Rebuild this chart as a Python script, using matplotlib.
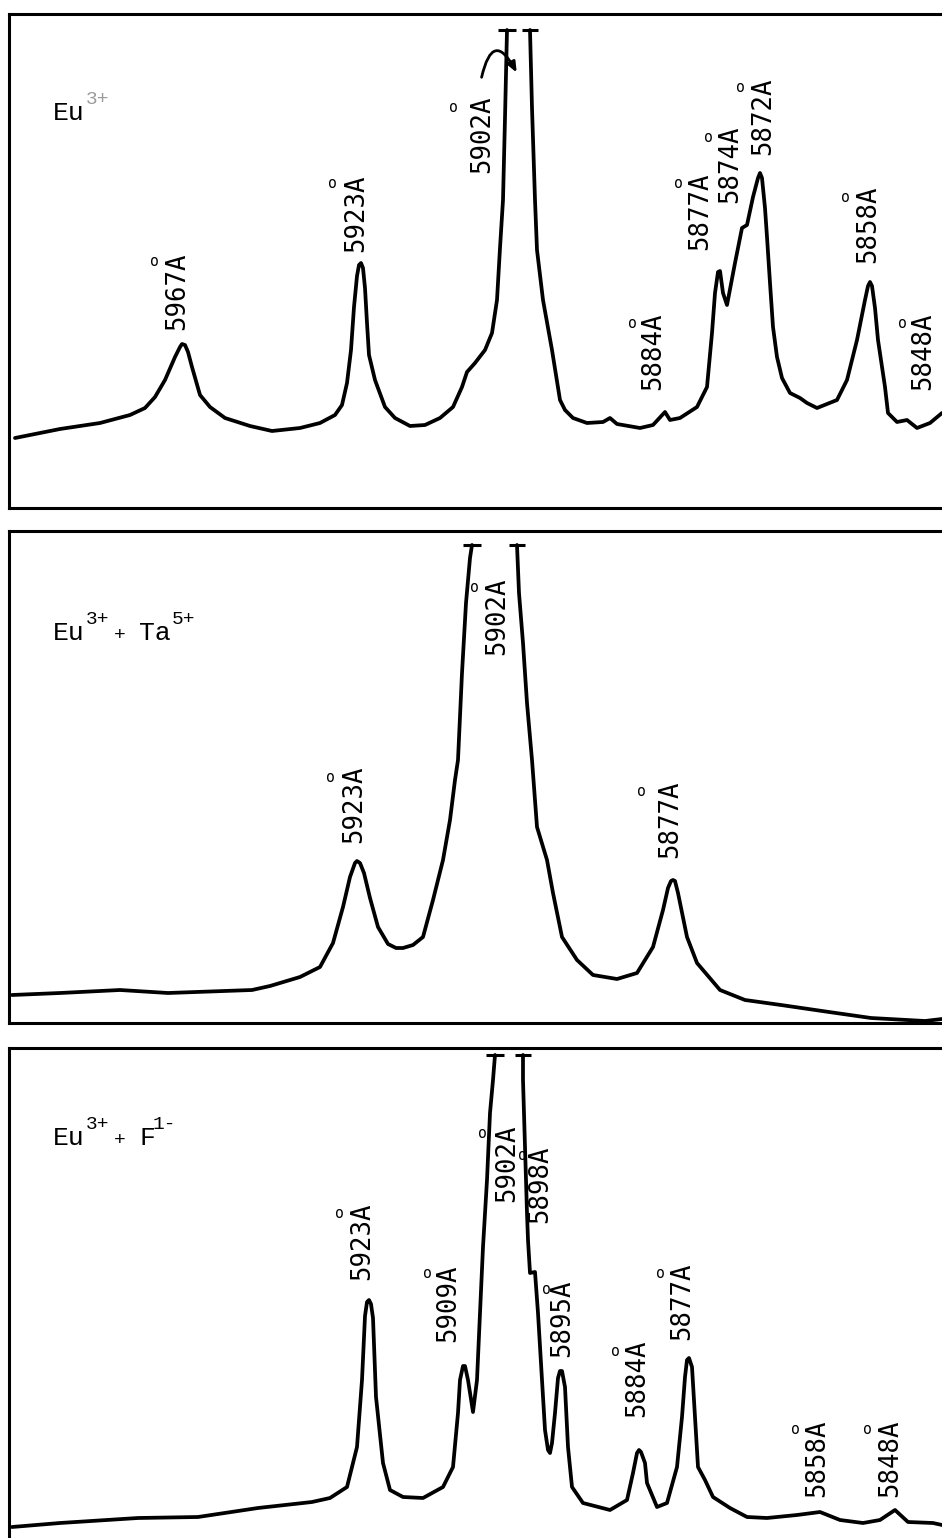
import matplotlib
matplotlib.use("Agg")
import matplotlib.pyplot as plt

# ---------------- data (chart position, pen deflection) ----------------
# Panel 1: Eu3+
eu_x_left = [15, 60, 100, 130, 145, 155, 165, 175, 180, 182, 185, 188, 192, 200, 210, 225, 250, 272, 300,
             320, 335, 342, 347, 351, 354, 357, 359, 361, 363, 365, 367, 369, 375, 385, 395, 410, 425, 440,
             453, 462, 467, 475, 485, 492, 497, 500, 503, 505, 507]
eu_y_left = [70, 79, 85, 93, 100, 111, 128, 151, 161, 164, 163, 156, 141, 113, 101, 90, 82, 77, 80,
             85, 93, 103, 125, 158, 201, 232, 243, 245, 240, 220, 185, 153, 128, 101, 90, 82, 83, 90,
             101, 121, 136, 145, 158, 175, 208, 260, 308, 390, 478]
eu_x_right = [530, 532, 535, 537, 543, 552, 560, 565, 573, 587, 603, 610, 617, 640, 653, 665, 670,
              680, 697, 707, 712, 715, 718, 720, 723, 727, 735, 742, 747, 753, 758, 760, 762, 765, 767,
              770, 773, 777, 782, 790, 800, 807, 817, 837, 847, 857, 865, 868, 870, 872, 875, 878, 885,
              888, 897, 907, 917, 930, 942]
eu_y_right = [478, 400, 308, 258, 208, 158, 108, 98, 90, 85, 86, 90, 84, 80, 83, 96, 88,
              90, 101, 121, 175, 215, 236, 237, 215, 203, 245, 280, 283, 311, 330, 335, 330, 300, 271,
              225, 181, 151, 130, 115, 110, 105, 100, 108, 128, 168, 208, 222, 226, 222, 200, 168, 121,
              95, 86, 88, 80, 85, 95]
eu_lines = ["5967", "5923", "5902", "5884", "5877", "5874", "5872", "5858", "5848"]

# Panel 2: Eu3+ + Ta5+
ta_x_left = [12, 60, 120, 168, 252, 270, 300, 320, 333, 343, 350, 355, 357, 360, 364, 370, 378, 388,
             396, 403, 413, 423, 433, 443, 450, 455, 458, 462, 466, 470, 472]
ta_y_left = [28, 30, 33, 30, 33, 37, 46, 56, 80, 116, 146, 160, 162, 160, 150, 125, 96, 79,
             75, 75, 78, 86, 123, 163, 203, 243, 263, 350, 420, 465, 478]
ta_x_right = [517, 519, 523, 527, 532, 537, 547, 553, 562, 577, 593, 617, 637, 653, 663, 668, 671,
              673, 675, 678, 687, 697, 720, 745, 781, 829, 871, 925, 942]
ta_y_right = [478, 430, 380, 320, 263, 196, 163, 130, 86, 63, 48, 44, 50, 76, 113, 135, 142,
              143, 142, 130, 86, 60, 33, 23, 18, 11, 5, 2, 4]
ta_lines = ["5923", "5902", "5877"]

# Panel 3: Eu3+ + F1-
f_x_left = [12, 60, 138, 198, 258, 312, 330, 347, 357, 362, 365, 367, 369, 371, 373, 376, 383, 390, 403,
            423, 443, 453, 458, 460, 463, 465, 468, 473, 477, 480, 483, 487, 490, 493, 495]
f_y_left = [11, 15, 20, 21, 30, 36, 40, 51, 91, 158, 222, 236, 238, 234, 220, 141, 75, 48, 41,
            40, 51, 71, 125, 158, 172, 172, 158, 126, 158, 225, 291, 358, 425, 458, 483]
f_x_right = [523, 523, 525, 527, 528, 530, 535, 538, 542, 545, 548, 550, 552, 555, 558, 560, 562, 565, 568, 572,
             583, 610, 627, 633, 637, 639, 641, 645, 647, 657, 667, 677, 682, 685, 687, 689, 692, 695, 698, 705,
             713, 730, 747, 767, 797, 820, 840, 863, 880, 895, 908, 933, 942]
f_y_right = [483, 458, 391, 325, 298, 265, 266, 225, 158, 108, 88, 85, 95, 125, 160, 167, 167, 151, 91, 51,
             35, 28, 38, 65, 85, 88, 86, 75, 55, 31, 35, 71, 121, 161, 178, 180, 171, 121, 71, 58,
             41, 30, 21, 20, 23, 26, 18, 15, 18, 28, 16, 15, 13]
f_lines = ["5923", "5909", "5902", "5898", "5895", "5884", "5877", "5858", "5848"]

# ---------------- layout helpers ----------------
W, H = 942, 1538
fig = plt.figure(figsize=(W / 100, H / 100), dpi=100)
fig.patch.set_facecolor("white")

LW = 2.2
CLW = 2.7
MONO = "DejaVu Sans Mono"
TYPE = "Liberation Mono"


def make_ax(top_px, bottom_px, show_bottom=True):
    ax = fig.add_axes([9 / W, (H - bottom_px) / H, (W - 9) / W, (bottom_px - top_px) / H])
    ax.set_xlim(9, W)
    ax.set_ylim(0, bottom_px - top_px)
    ax.set_xticks([])
    ax.set_yticks([])
    for s in ("top", "left", "bottom"):
        ax.spines[s].set_linewidth(LW)
        ax.spines[s].set_color("black")
    ax.spines["right"].set_visible(False)
    ax.spines["bottom"].set_visible(show_bottom)
    ax.patch.set_alpha(0)
    return ax


def trace(ax, xl, yl, xr, yr):
    ax.plot(xl, yl, color="black", lw=CLW, solid_joinstyle="round", solid_capstyle="round")
    ax.plot(xr, yr, color="black", lw=CLW, solid_joinstyle="round", solid_capstyle="round")
    # off-scale caps at the clipped ends
    ax.plot([xl[-1]], [yl[-1]], marker="_", ms=13, mew=LW, color="black")
    ax.plot([xr[0]], [yr[0]], marker="_", ms=11, mew=LW, color="black")


def labels(ax, names, pos, rings):
    for name, (x, y), (rx, ry) in zip(names, pos, rings):
        ax.text(x, y, name + "A", rotation=90, ha="center", va="bottom",
                fontsize=18.5, family=MONO, color="black")
        ax.text(rx, ry, "o", ha="center", va="center", fontsize=10.5, family=MONO, color="black")


# ---------------- panel 1 ----------------
ax1 = make_ax(14, 508)
trace(ax1, eu_x_left, eu_y_left, eu_x_right, eu_y_right)
labels(ax1, eu_lines,
       [(177, 178), (356, 256), (482, 335), (653, 118), (700, 258), (730, 305), (763, 353),
        (868, 245), (923, 118)],
       [(154, 246), (332, 324), (453, 401), (632, 185), (678, 325), (708, 371), (740, 420),
        (845, 311), (902, 185)])
ax1.text(53, 388, "Eu", fontsize=19, family=TYPE, va="baseline", color="black")
ax1.text(86, 404, "3+", fontsize=14, family=TYPE, va="baseline", color="#9a9a9a")
ax1.annotate("", xy=(518, 433), xytext=(481, 428),
             arrowprops=dict(arrowstyle="-|>,head_length=0.6,head_width=0.25", lw=2.0,
                             color="black", connectionstyle="arc3,rad=-1.4"))

# ---------------- panel 2 ----------------
ax2 = make_ax(531, 1023)
trace(ax2, ta_x_left, ta_y_left, ta_x_right, ta_y_right)
labels(ax2, ta_lines, [(354, 180), (497, 368), (670, 165)],
       [(330, 246), (474, 435), (641, 232)])
ax2.text(53, 383, "Eu", fontsize=19, family=TYPE, va="baseline")
ax2.text(86, 399, "3+", fontsize=14, family=TYPE, va="baseline")
ax2.text(114, 383, "+", fontsize=14, family=TYPE, va="baseline")
ax2.text(139, 383, "Ta", fontsize=19, family=TYPE, va="baseline")
ax2.text(172, 399, "5+", fontsize=14, family=TYPE, va="baseline")

# ---------------- panel 3 ----------------
ax3 = make_ax(1048, 1538, show_bottom=False)
trace(ax3, f_x_left, f_y_left, f_x_right, f_y_right)
labels(ax3, f_lines,
       [(362, 258), (448, 196), (507, 336), (540, 315), (562, 181), (637, 121), (682, 198),
        (817, 41), (890, 41)],
       [(339, 325), (427, 265), (482, 405), (522, 383), (546, 248), (615, 186), (660, 265),
        (795, 108), (867, 108)])
ax3.text(53, 393, "Eu", fontsize=19, family=TYPE, va="baseline")
ax3.text(86, 409, "3+", fontsize=14, family=TYPE, va="baseline")
ax3.text(114, 393, "+", fontsize=14, family=TYPE, va="baseline")
ax3.text(139, 393, "F", fontsize=19, family=TYPE, va="baseline")
ax3.text(153, 409, "1-", fontsize=14, family=TYPE, va="baseline")

fig.savefig("out.png", dpi=100, facecolor="white")
